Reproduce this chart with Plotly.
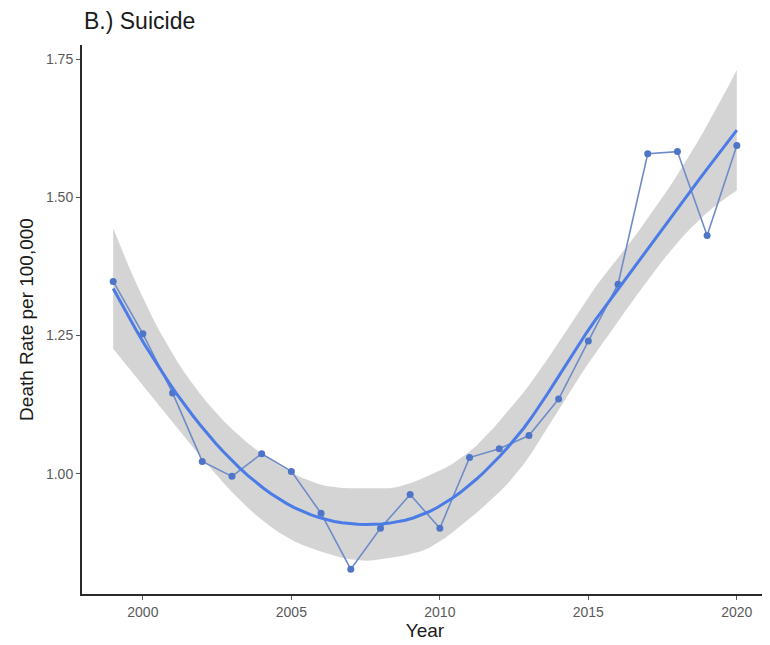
import numpy as np
import plotly.graph_objects as go

# ---- data ----
years = list(range(1999, 2021))
rates = [1.348, 1.253, 1.146, 1.022, 0.995, 1.036, 1.004, 0.928, 0.827, 0.901,
         0.962, 0.901, 1.029, 1.045, 1.069, 1.135, 1.240, 1.343, 1.579, 1.583,
         1.431, 1.594]
x_ticks = [2000, 2005, 2010, 2015, 2020]
y_ticks = [1.00, 1.25, 1.50, 1.75]
y_tick_labels = ["1.00", "1.25", "1.50", "1.75"]

# ---- loess smoother (local quadratic, span 0.75, interpolated surface, like R loess) ----
SPAN = 0.75
DEG = 2


def local_ops(x, x0):
    n = len(x)
    q = int(np.floor(n * SPAN))
    d = np.abs(x - x0)
    h = np.sort(d)[q - 1]
    u = np.clip(d / h, 0, 1)
    w = (1 - u ** 3) ** 3
    X = np.vstack([(x - x0) ** k for k in range(DEG + 1)]).T
    W = np.diag(w)
    B = np.linalg.solve(X.T @ W @ X, X.T @ W)
    return B[0], B[1]  # operator rows for value and slope


xa = np.array(years, dtype=float)
ya = np.array(rates, dtype=float)
n = len(xa)

# kd-tree vertices (1-D), as in R's loess surface="interpolate"
fc = int(np.floor(n * SPAN * 0.2))
lo_b, hi_b = xa.min(), xa.max()
mu = 0.005 * (hi_b - lo_b)
verts = {lo_b - mu, hi_b + mu}


def split(l, u):
    if u - l + 1 <= fc:
        return
    m = (l + u) // 2
    verts.add((xa[m - 1] + xa[m]) / 2)
    split(l, m)
    split(m + 1, u)


split(1, n)
verts = np.array(sorted(verts))
VOPS = [local_ops(xa, v) for v in verts]


def interp_op(x0):
    i = np.searchsorted(verts, x0) - 1
    i = min(max(i, 0), len(verts) - 2)
    a, b = verts[i], verts[i + 1]
    hh = b - a
    t = (x0 - a) / hh
    h00 = 2 * t ** 3 - 3 * t ** 2 + 1
    h10 = t ** 3 - 2 * t ** 2 + t
    h01 = -2 * t ** 3 + 3 * t ** 2
    h11 = t ** 3 - t ** 2
    va, sa = VOPS[i]
    vb, sb = VOPS[i + 1]
    return h00 * va + h10 * hh * sa + h01 * vb + h11 * hh * sb


L = np.array([interp_op(x0) for x0 in xa])
resid = ya - L @ ya
IL = np.eye(n) - L
M = IL.T @ IL
delta1 = np.trace(M)
delta2 = np.trace(M @ M)
sigma = np.sqrt(np.sum(resid ** 2) / delta1)
df = delta1 ** 2 / delta2
z = 1.959964
tq = z + (z ** 3 + z) / (4 * df) + (5 * z ** 5 + 16 * z ** 3 + 3 * z) / (96 * df ** 2) \
    + (3 * z ** 7 + 19 * z ** 5 + 17 * z ** 3 - 15 * z) / (384 * df ** 3)

xs = np.linspace(xa.min(), xa.max(), 80)
ops = np.array([interp_op(x0) for x0 in xs])
fit = ops @ ya
se = sigma * np.sqrt(np.sum(ops ** 2, axis=1))
lo = fit - tq * se
hi = fit + tq * se

fig = go.Figure()
fig.add_trace(go.Scatter(x=np.concatenate([xs, xs[::-1]]), y=np.concatenate([hi, lo[::-1]]),
                         fill="toself", fillcolor="rgba(153,153,153,0.42)",
                         line=dict(width=0), hoverinfo="skip", showlegend=False))
fig.add_trace(go.Scatter(x=years, y=rates, mode="lines+markers",
                         line=dict(color="#6f8cc8", width=1.6),
                         marker=dict(color="#4f75c8", size=7),
                         showlegend=False))
fig.add_trace(go.Scatter(x=xs, y=fit, mode="lines",
                         line=dict(color="#4a7be6", width=3),
                         showlegend=False))

# page body has an 8px margin, so the figure is sized / offset to compensate
fig.update_layout(
    width=762, height=637,
    margin=dict(l=74, r=2, t=37, b=51),
    paper_bgcolor="white", plot_bgcolor="white",
    font=dict(family="Liberation Sans, Arial, sans-serif", color="#222222"),
    showlegend=False,
)
fig.update_xaxes(
    range=[1997.95, 2021.05], tickvals=x_ticks, ticktext=[str(v) for v in x_ticks],
    showgrid=False, zeroline=False, showline=True, linecolor="#2a2a2a", linewidth=2,
    ticks="outside", ticklen=4, tickcolor="#555555", tickwidth=1,
    tickfont=dict(size=14, color="#5a5a5a"), automargin=False,
    title=dict(text="Year", font=dict(size=19, color="#1a1a1a"), standoff=3),
)
fig.update_yaxes(
    range=[0.782, 1.776], tickvals=y_ticks, ticktext=y_tick_labels,
    showgrid=False, zeroline=False, showline=True, linecolor="#2a2a2a", linewidth=2,
    ticks="outside", ticklen=4, tickcolor="#555555", tickwidth=1,
    tickfont=dict(size=14, color="#5a5a5a"), automargin=False,
    title=dict(text="Death Rate per 100,000", font=dict(size=19, color="#1a1a1a"), standoff=7),
)
fig.add_annotation(text="B.) Suicide", xref="paper", yref="paper", x=0, y=1,
                   xanchor="left", yanchor="middle", yshift=24, showarrow=False,
                   font=dict(size=23, color="#1a1a1a"))
fig.write_html("out.html")
